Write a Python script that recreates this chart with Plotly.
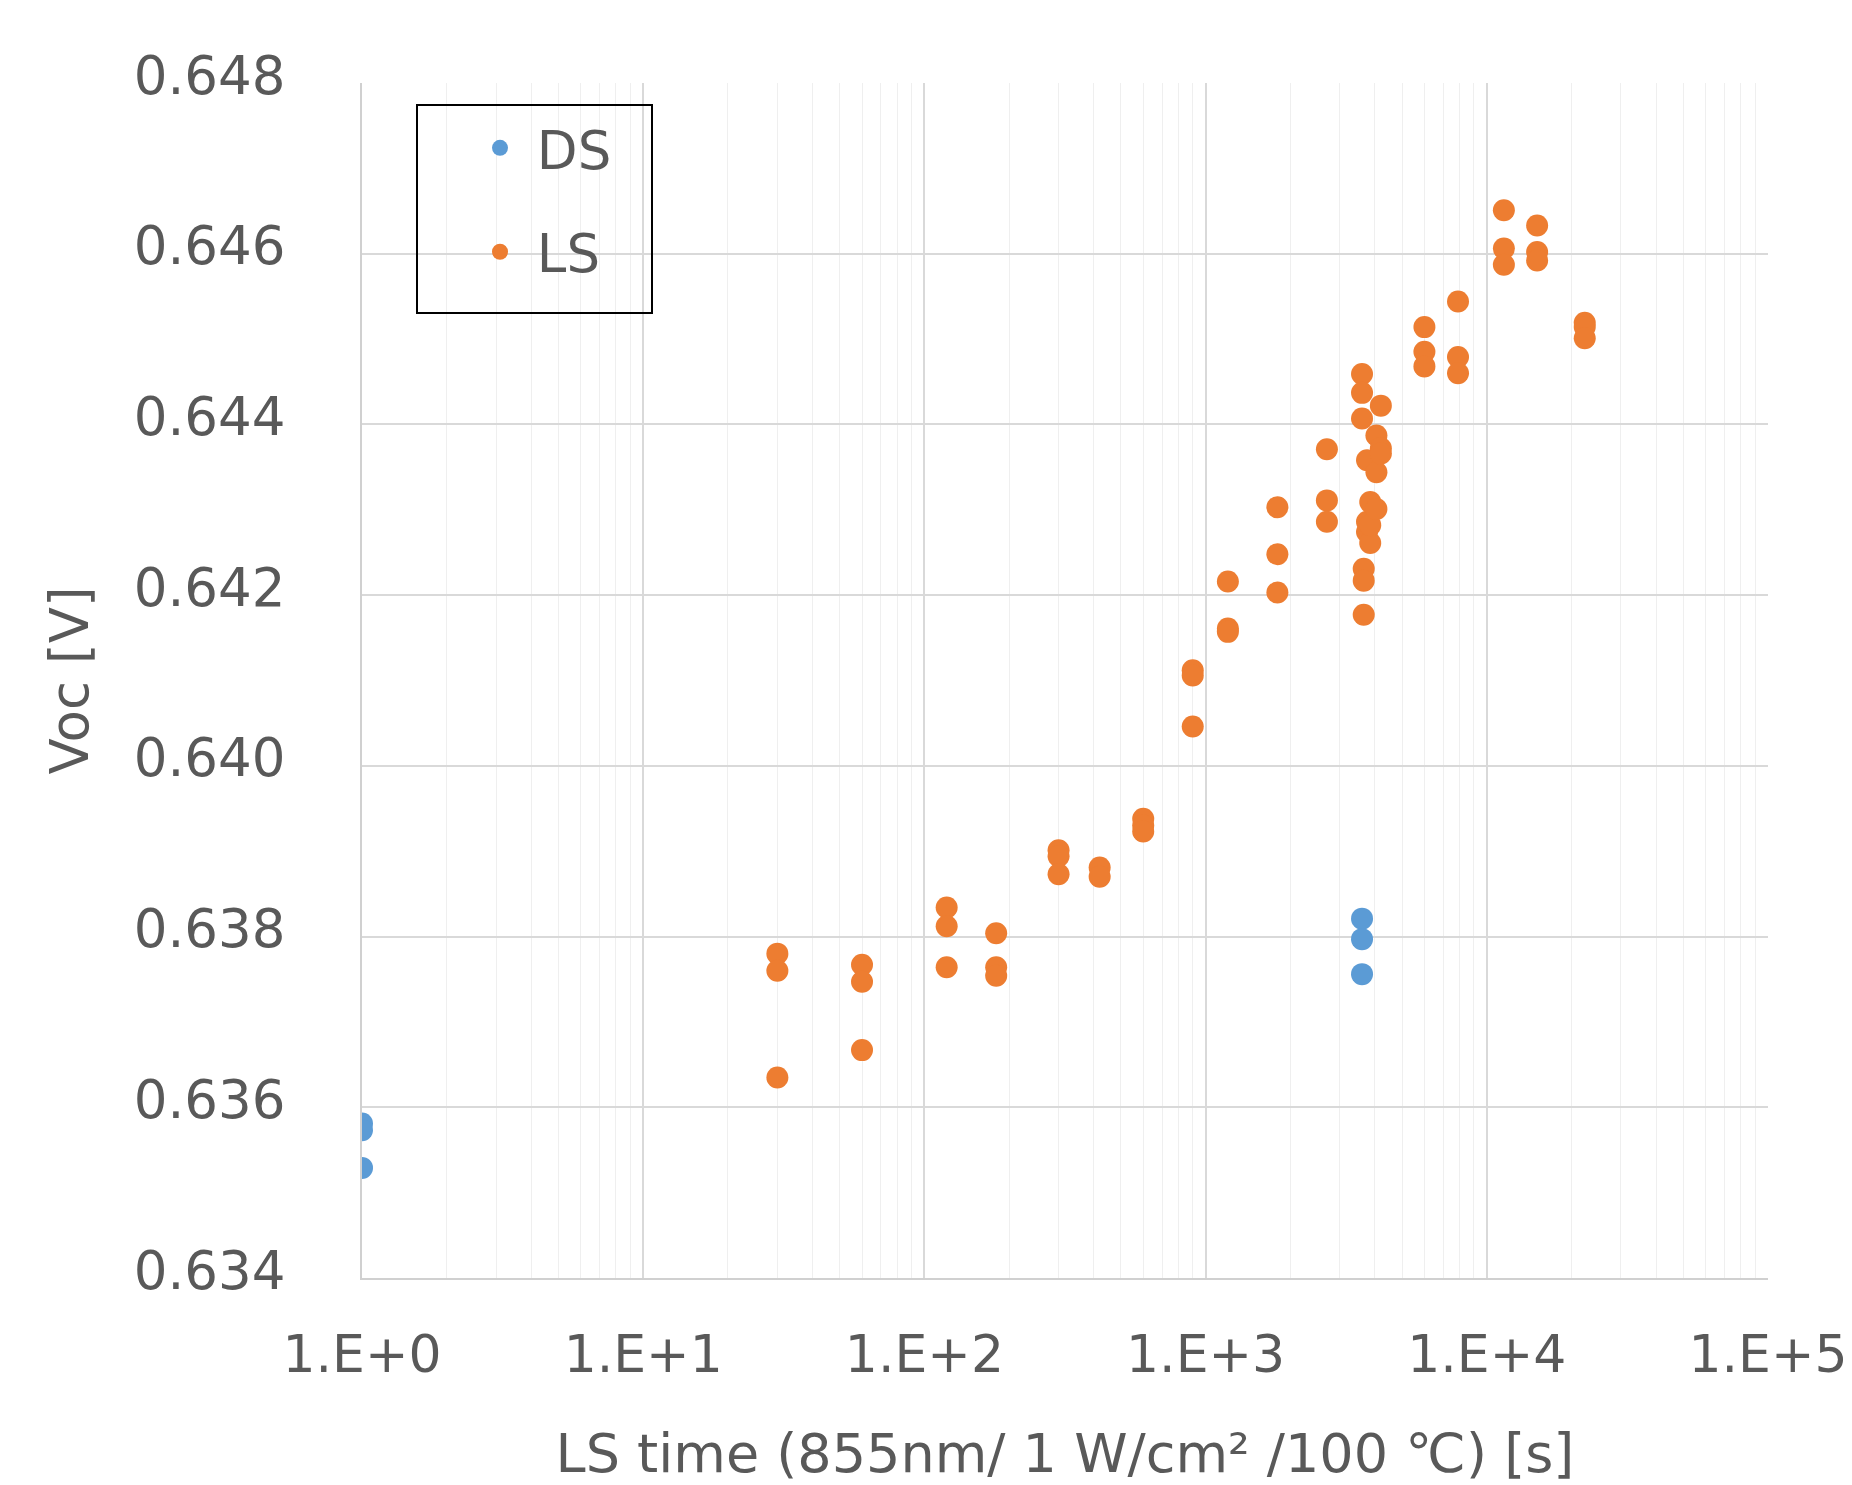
import plotly.graph_objects as go

# ---- data ----
ds_time = [1, 1, 1, 3600, 3600, 3600]
ds_voc = [0.63581, 0.63573, 0.63529, 0.63821, 0.63797, 0.63756]

ls_time = [
    30, 30, 30,
    60, 60, 60,
    120, 120, 120,
    180, 180, 180,
    300, 300, 300,
    420, 420,
    600, 600, 600,
    900, 900, 900,
    1200, 1200, 1200,
    1800, 1800, 1800,
    2700, 2700, 2700,
    3600, 3600, 3600,
    3650, 3650, 3650,
    3750, 3750, 3750,
    3850, 3850, 3850,
    4050, 4050, 4050,
    4200, 4200, 4200,
    6000, 6000, 6000,
    7900, 7900, 7900,
    11500, 11500, 11500,
    15100, 15100, 15100,
    22300, 22300, 22300,
]
ls_voc = [
    0.63780, 0.63760, 0.63635,
    0.63767, 0.63747, 0.63667,
    0.63834, 0.63812, 0.63764,
    0.63804, 0.63764, 0.63754,
    0.63901, 0.63894, 0.63873,
    0.63881, 0.63870,
    0.63938, 0.63930, 0.63923,
    0.64112, 0.64106, 0.64046,
    0.64216, 0.64161, 0.64157,
    0.64303, 0.64248, 0.64203,
    0.64371, 0.64311, 0.64286,
    0.64459, 0.64437, 0.64407,
    0.64231, 0.64217, 0.64177,
    0.64358, 0.64286, 0.64274,
    0.64309, 0.64261, 0.64282,
    0.64387, 0.64344, 0.64301,
    0.64422, 0.64372, 0.64366,
    0.64514, 0.64485, 0.64468,
    0.64544, 0.64479, 0.64460,
    0.64651, 0.64606, 0.64587,
    0.64633, 0.64602, 0.64592,
    0.64519, 0.64514, 0.64501,
]

x_tickvals = [1, 10, 100, 1000, 10000, 100000]
x_ticktext = ["1.E+0", "1.E+1", "1.E+2", "1.E+3", "1.E+4", "1.E+5"]
y_tickvals = [0.634, 0.636, 0.638, 0.640, 0.642, 0.644, 0.646, 0.648]
y_ticktext = ["0.634", "0.636", "0.638", "0.640", "0.642", "0.644", "0.646", "0.648"]

FONT = "DejaVu Sans"
TXT = "#595959"

L, R, T, B = 362, 84, 83, 207
W, H = 1852, 1485
PW, PH = W - L - R, H - T - B

fig = go.Figure()
fig.add_trace(go.Scatter(x=ds_time, y=ds_voc, mode="markers", name="\u00a0DS",
                         legendgroup="a",
                         marker=dict(color="#5B9BD5", size=22)))
fig.add_trace(go.Scatter(x=ls_time, y=ls_voc, mode="markers", name="\u00a0LS",
                         legendgroup="b",
                         marker=dict(color="#ED7D31", size=22)))

fig.update_layout(
    width=W, height=H,
    margin=dict(l=L, r=R, t=T, b=B, autoexpand=False),
    paper_bgcolor="white", plot_bgcolor="white",
    font=dict(family=FONT, size=53, color=TXT),
    showlegend=True,
    legend=dict(x=(480 - L) / PW, y=0.980, xanchor="left", yanchor="top",
                bgcolor="rgba(0,0,0,0)", borderwidth=0,
                traceorder="grouped", tracegroupgap=32,
                font=dict(family=FONT, size=53, color=TXT)),
    shapes=[dict(type="rect", xref="paper", yref="paper",
                 x0=(417 - L) / PW, x1=(652 - L) / PW,
                 y0=(H - B - 313) / PH, y1=(H - B - 105) / PH,
                 line=dict(color="black", width=2), fillcolor="rgba(0,0,0,0)",
                 layer="above")],
)

fig.update_xaxes(
    type="log", range=[0, 5], automargin=False,
    tickvals=x_tickvals, ticktext=x_ticktext,
    tickfont=dict(family=FONT, size=52, color=TXT),
    ticklabeloverflow="allow",
    showgrid=True, gridcolor="#D9D9D9", gridwidth=2,
    minor=dict(dtick="D1", showgrid=True, gridcolor="#EFEFEF", gridwidth=1),
    showline=True, linecolor="#D0D0D0", linewidth=2,
    zeroline=False, ticks="", ticklabelstandoff=30,
    title=dict(text="LS time (855nm/ 1 W/cm² /100 ℃) [s]", standoff=52,
               font=dict(family=FONT, size=54, color=TXT)),
)
fig.update_yaxes(
    range=[0.634, 0.648], automargin=False,
    tickvals=y_tickvals, ticktext=y_ticktext,
    tickfont=dict(family=FONT, size=53, color=TXT),
    showgrid=True, gridcolor="#D9D9D9", gridwidth=2,
    showline=True, linecolor="#D0D0D0", linewidth=2,
    zeroline=False, ticks="", ticklabelstandoff=64, ticklabelshift=-8,
    title=dict(text="Voc [V]", standoff=28,
               font=dict(family=FONT, size=53, color=TXT)),
)

fig.write_html("out.html", config={"displayModeBar": False},
               post_script="document.body.style.margin='0';")
